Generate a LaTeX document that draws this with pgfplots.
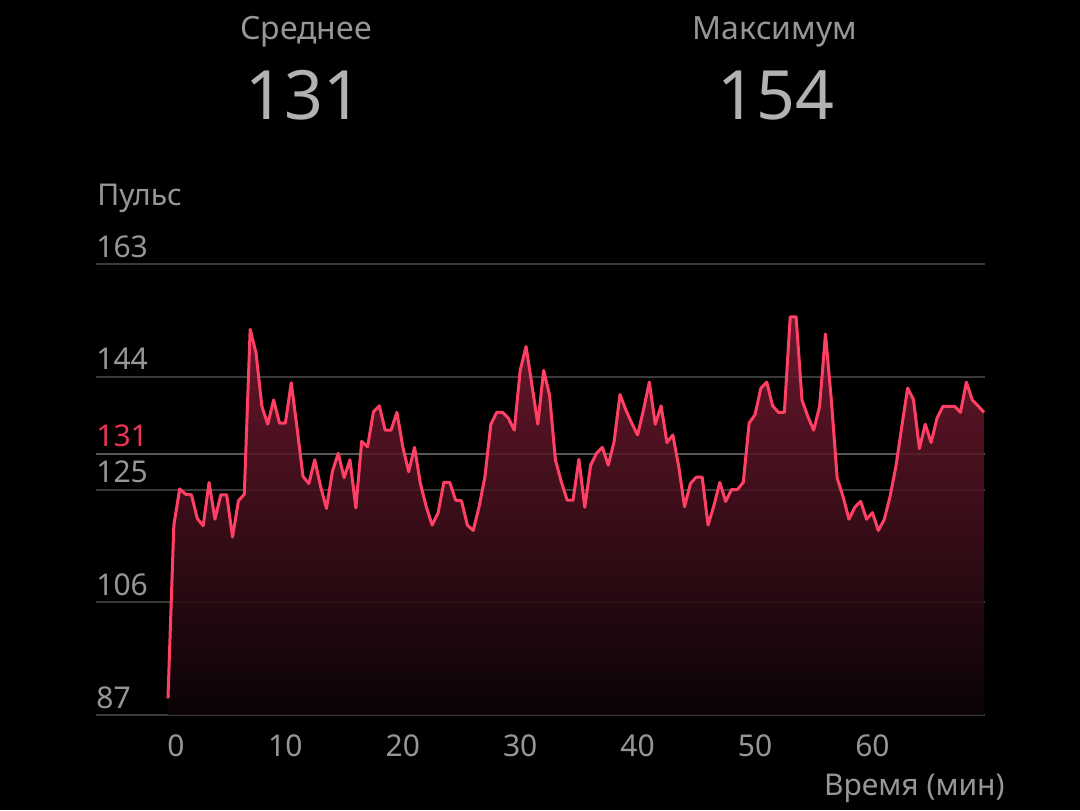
\documentclass[border=0pt]{standalone}
\usepackage{fontspec}
\setmainfont{Noto Sans}
\usepackage{pgfplots}
\usepackage{pgfplotstable}
\pgfplotsset{compat=1.18}
\definecolor{txt}{RGB}{150,150,150}
\definecolor{big}{RGB}{178,178,178}
\definecolor{gridc}{RGB}{58,58,58}
\definecolor{avgc}{RGB}{88,88,88}
\definecolor{hrc}{RGB}{255,64,100}
\definecolor{hrlab}{RGB}{232,52,85}
\definecolor{filltop}{RGB}{125,28,52}
\definecolor{fillbot}{RGB}{12,4,6}
\pgfplotstableread{
t hr
0 89.8
0.5 119.0
1 125.1
1.5 124.2
2 124.1
2.5 120.1
3 118.9
3.5 126.2
4 120.0
4.5 124.1
5 124.1
5.5 117.0
6 123.1
6.5 124.2
7 152.0
7.5 148.0
8 139.0
8.5 136.0
9 140.1
9.5 136.2
10 136.2
10.5 143.0
11 135.3
11.5 127.2
12 126.0
12.5 130.0
13 125.5
13.5 121.8
14 128.0
14.5 131.1
15 127.0
15.5 130.0
16 121.9
16.5 133.1
17 132.2
17.5 138.1
18 139.1
18.5 135.0
19 135.0
19.5 138.0
20 132.2
20.5 128.0
21 132.1
21.5 126.0
22 122.1
22.5 119.0
23 121.0
23.5 126.2
24 126.2
24.5 123.2
25 123.1
25.5 119.0
26 118.1
26.5 122.1
27 127.2
27.5 136.0
28 138.0
28.5 138.0
29 137.0
29.5 135.0
30 145.1
30.5 149.1
31 142.6
31.5 136.0
32 145.1
32.5 140.9
33 130.0
33.5 126.3
34 123.2
34.5 123.2
35 130.1
35.5 122.0
36 129.1
36.5 131.1
37 132.1
37.5 129.1
38 133.1
38.5 141.0
39 138.4
39.5 136.2
40 134.2
40.5 138.4
41 143.1
41.5 136.0
42 139.1
42.5 132.9
43 134.2
43.5 128.9
44 122.1
44.5 126.0
45 127.1
45.5 127.1
46 119.0
46.5 122.3
47 126.2
47.5 123.0
48 125.0
48.5 125.0
49 126.2
49.5 136.2
50 137.6
50.5 142.1
51 143.1
51.5 139.1
52 138.0
52.5 138.0
53 154.1
53.5 154.1
54 140.1
54.5 137.3
55 135.0
55.5 139.0
56 151.2
56.5 140.1
57 126.9
57.5 123.8
58 120.0
58.5 122.0
59 123.0
59.5 120.0
60 121.1
60.5 118.1
61 119.9
61.5 123.8
62 128.9
62.5 135.6
63 142.1
63.5 140.1
64 131.9
64.5 136.0
65 132.9
65.5 137.0
66 139.0
66.5 139.0
67 139.0
67.5 138.0
68 143.1
68.5 140.1
69 139.1
69.5 138.0
}\hrdata
\begin{document}
\begin{tikzpicture}
\fill[black] (0,0) rectangle (540pt,405pt);
\node[anchor=base, text=txt, font=\fontsize{16}{19}\selectfont, inner sep=0pt] at (153pt,385pt) {Среднее};
\node[anchor=base, text=big, font=\fontsize{34}{40}\selectfont, inner sep=0pt] at (152pt,345pt) {131};
\node[anchor=base, text=txt, font=\fontsize{16}{19}\selectfont, inner sep=0pt] at (387.5pt,385pt) {Максимум};
\node[anchor=base, text=big, font=\fontsize{34}{40}\selectfont, inner sep=0pt] at (388pt,345pt) {154};
\node[anchor=base west, text=txt, font=\fontsize{15}{18}\selectfont, inner sep=0pt] at (48.5pt,302pt) {Пульс};
\node[anchor=base east, text=txt, font=\fontsize{15}{18}\selectfont, inner sep=0pt] at (502.5pt,7.5pt) {Время (мин)};
\begin{axis}[
  at={(48pt,47.5pt)}, anchor=south west, scale only axis,
  width=444.5pt, height=225.5pt,
  xmin=-6.13, xmax=69.59, ymin=87, ymax=163,
  axis line style={draw=none}, major tick length=0pt,
  ytick={87,106,125,144,163}, yticklabels={87,106,125,144,163},
  xtick={0,10,20,30,40,50,60},
  xticklabels={\hspace*{8pt}0,10,20,30,40,50,60},
  ymajorgrids, major grid style={draw=gridc, line width=1pt},
  yticklabel style={anchor=base west, inner sep=0pt, yshift=3.5pt, text=txt, font=\fontsize{15}{18}\selectfont},
  xticklabel style={anchor=base, inner sep=0pt, yshift=-20.5pt, text=txt, font=\fontsize{15}{18}\selectfont},
  extra y ticks={131}, extra y tick labels={131},
  extra y tick style={major grid style={draw=avgc, line width=1pt}, yticklabel style={text=hrlab}},
]
\addplot[draw=none, top color=filltop, bottom color=fillbot, fill opacity=0.85] table[x=t,y=hr]{\hrdata} \closedcycle;
\addplot[color=hrc, line width=1.5pt, line join=round, mark=none] table[x=t,y=hr]{\hrdata};
\end{axis}
\pgfresetboundingbox
\useasboundingbox (0,0) rectangle (540pt,405pt);
\end{tikzpicture}
\end{document}
